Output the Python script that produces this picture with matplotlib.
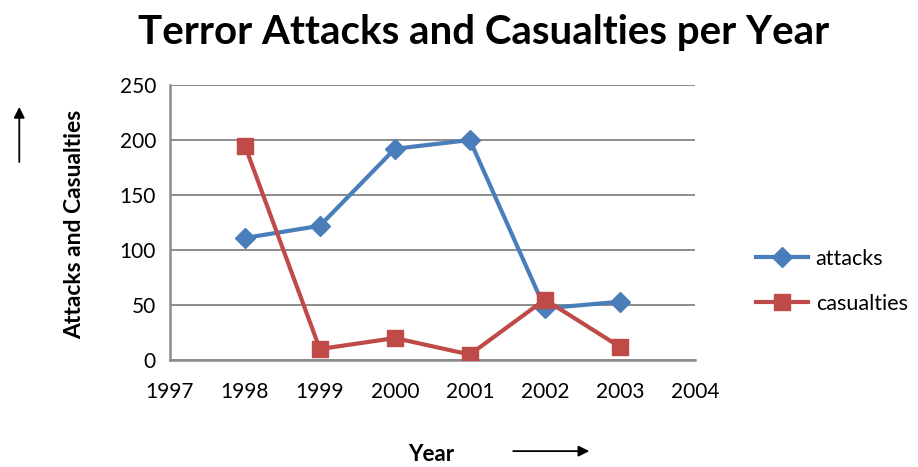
import matplotlib
matplotlib.use("Agg")
import matplotlib.pyplot as plt

years = [1998, 1999, 2000, 2001, 2002, 2003]
attacks = [111, 122, 192, 200, 47, 53]
casualties = [195, 10, 20, 5, 55, 12]
xticks = [1997, 1998, 1999, 2000, 2001, 2002, 2003, 2004]
yticks = [0, 50, 100, 150, 200, 250]

plt.rcParams['font.family'] = ['Lato', 'DejaVu Sans']

fig = plt.figure(figsize=(9.18, 4.67), dpi=100)
ax = fig.add_axes([0.185, 0.229, 0.572, 0.589])

ax.plot(years, attacks, color='#4A7EBB', lw=3, marker='D', ms=10,
        label='attacks', zorder=3)
ax.plot(years, casualties, color='#BE4B48', lw=3, marker='s', ms=12,
        label='casualties', zorder=3)

ax.set_xlim(1997, 2004)
ax.set_ylim(0, 250)
ax.set_xticks(xticks)
ax.set_yticks(yticks)
ax.tick_params(labelsize=15, length=0, pad=10)
ax.tick_params(axis='x', pad=16)
ax.grid(axis='y', color='#8c8c8c', lw=1.4)
ax.set_axisbelow(True)
for s in ['top', 'right']:
    ax.spines[s].set_visible(False)
for s in ['left', 'bottom']:
    ax.spines[s].set_color('#8c8c8c')
    ax.spines[s].set_linewidth(1.8)

fig.text(0.527, 0.93, 'Terror Attacks and Casualties per Year', ha='center',
         va='center', fontsize=29, fontweight='bold')
fig.text(0.081, 0.52, 'Attacks and Casualties', rotation=90, ha='center',
         va='center', fontsize=16.5, fontweight='bold')
fig.text(0.47, 0.026, 'Year', ha='center', va='center', fontsize=16,
         fontweight='bold')

# arrows next to axis labels
fig.patches.append(matplotlib.patches.FancyArrowPatch(
    (0.021, 0.647), (0.021, 0.777), transform=fig.transFigure,
    arrowstyle='-|>', mutation_scale=16, color='black', lw=1.3))
fig.patches.append(matplotlib.patches.FancyArrowPatch(
    (0.556, 0.034), (0.645, 0.034), transform=fig.transFigure,
    arrowstyle='-|>', mutation_scale=16, color='black', lw=1.3))

fig.legend(loc='center left', bbox_to_anchor=(0.824, 0.398), frameon=False,
           fontsize=15.5, handlelength=2.4, labelspacing=1.15, handletextpad=0.35,
           borderpad=0, borderaxespad=0)

fig.savefig('out.png', dpi=100)
